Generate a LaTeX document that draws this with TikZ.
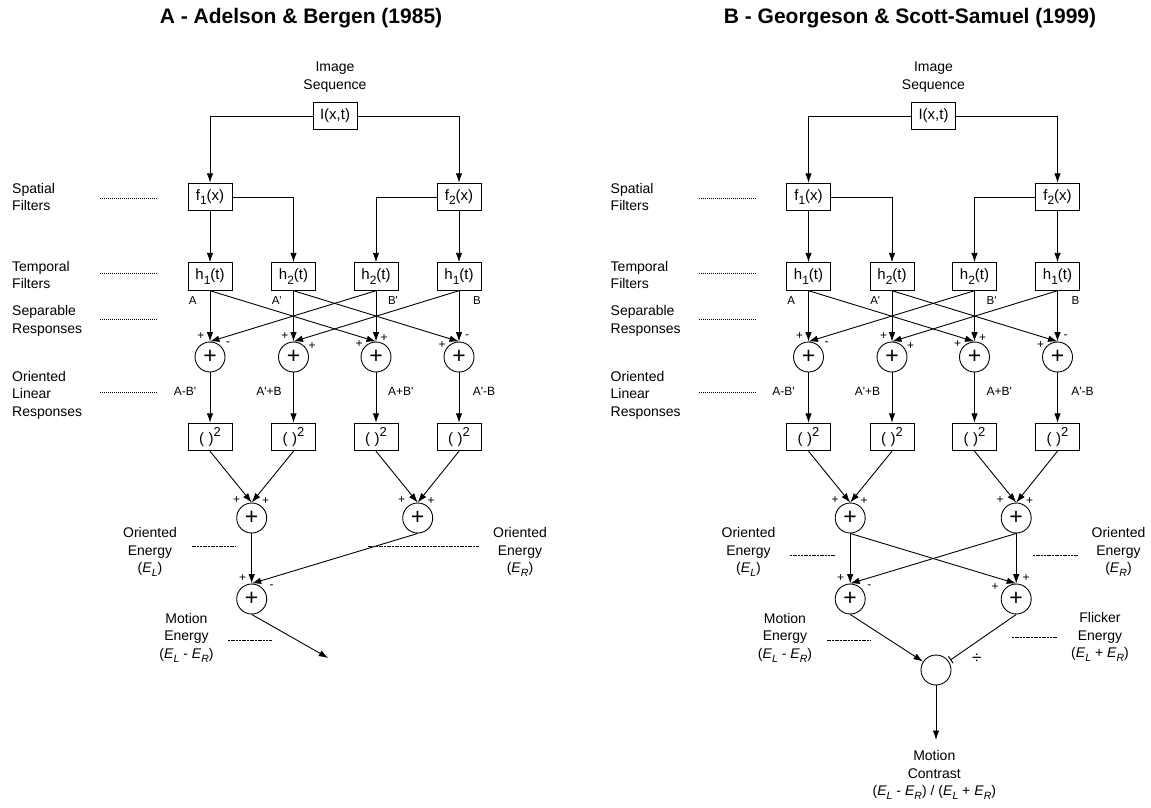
\documentclass[tikz,border=0pt]{standalone}
\usepackage{fontspec}
\setmainfont{Liberation Sans}
\newfontfamily\pfont{Liberation Sans}
\usetikzlibrary{arrows.meta}

\newcommand\pr{{\pfont\char"27}}
\newcommand\sub[1]{\raisebox{-0.55ex}{\fontsize{12}{12}\selectfont #1}}
\newcommand\Es[1]{\textit{E}\raisebox{-0.55ex}{\fontsize{10.5}{10.5}\selectfont\textit{#1}}}
\newcommand\sq{(\hspace{4.5pt})\raisebox{0.9ex}{\fontsize{13}{13}\selectfont 2}}

\tikzset{
  ln/.style={line width=0.9pt},
  arr/.style={ln,-{Latex[length=9.5pt,width=6.5pt]}},
  barr/.style={ln,-{Bar[width=8pt,line width=1pt]},shorten >=2pt},
  box/.style={draw,line width=0.9pt,minimum width=44pt,minimum height=27.5pt,inner sep=0pt,font=\fontsize{15}{15}\selectfont},
  sumc/.style={draw,circle,line width=0.9pt,minimum size=30pt,inner sep=0pt,font=\fontsize{23}{23}\selectfont},
  lbl/.style={inner sep=0pt,align=center,font=\fontsize{14}{17.5}\selectfont},
  lbll/.style={lbl,align=left,anchor=west},
  tiny/.style={inner sep=0pt,font=\fontsize{11.5}{11.5}\selectfont},
  mid/.style={inner sep=0pt,font=\fontsize{12}{12}\selectfont},
  sgn/.style={inner sep=0pt,font=\fontsize{12}{12}\selectfont},
  dotline/.style={line width=0.9pt,dash pattern=on 1pt off 1pt},
  dashline/.style={line width=0.7pt,dash pattern=on 2pt off 0.7pt},
  ttl/.style={inner sep=0pt,font=\fontsize{21}{21}\selectfont\bfseries},
}

\newcommand\commonpart{%
  % side labels
  \node[lbll] (Ls) at (12,197) {Spatial\\Filters};
  \node[lbll] (Lt) at (12,275) {Temporal\\Filters};
  \node[lbll] (Lr) at (12,321) {Separable\\Responses};
  \node[lbll] (Lo) at (12,395) {Oriented\\Linear\\Responses};
  \coordinate (ds1) at (100,198); \coordinate (ds2) at (158,198);
  \coordinate (dt1) at (100,273.5); \coordinate (dt2) at (158,273.5);
  \coordinate (dr1) at (100,319); \coordinate (dr2) at (158,319);
  \coordinate (do1) at (100,392); \coordinate (do2) at (158,392);
  \draw[dotline] (ds1) -- (ds2);
  \draw[dotline] (dt1) -- (dt2);
  \draw[dotline] (dr1) -- (dr2);
  \draw[dotline] (do1) -- (do2);
  % boxes
  \node[lbl] (seq) at (335,77) {Image\\Sequence};
  \node[box] (I) at (335,116) {I(x,t)};
  \node[box] (f1) at (210,197) {f\sub{1}(x)};
  \node[box] (f2) at (459,197) {f\sub{2}(x)};
  \node[box] (h1) at (210,276.5) {h\sub{1}(t)};
  \node[box] (h2) at (293.5,276.5) {h\sub{2}(t)};
  \node[box] (h3) at (376,276.5) {h\sub{2}(t)};
  \node[box] (h4) at (459,276.5) {h\sub{1}(t)};
  \draw[arr] (I.west) -| (f1.north);
  \draw[arr] (I.east) -| (f2.north);
  \draw[arr] (f1.south) -- (h1.north);
  \draw[arr] (f1.east) -| (h2.north);
  \draw[arr] (f2.west) -| (h3.north);
  \draw[arr] (f2.south) -- (h4.north);
  \node[tiny] (lA) at (192.7,301) {A};
  \node[tiny] (lA2) at (276.7,301) {A\pr};
  \node[tiny] (lB2) at (393,301) {B\pr};
  \node[tiny] (lB) at (477,301) {B};
  % first sums
  \node[sumc] (s1) at (210,357) {+};
  \node[sumc] (s2) at (293.5,357) {+};
  \node[sumc] (s3) at (376,357) {+};
  \node[sumc] (s4) at (459,357) {+};
  \draw[arr] (h1.south) -- (s1.north);
  \draw[arr] (h2.south) -- (s2.north);
  \draw[arr] (h3.south) -- (s3.north);
  \draw[arr] (h4.south) -- (s4.north);
  \draw[arr] (h1.south) -- (s3.north);
  \draw[arr] (h2.south) -- (s4.north);
  \draw[arr] (h3.south) -- (s1.north);
  \draw[arr] (h4.south) -- (s2.north);
  \node[sgn] (g1a) at (201,336) {+};
  \node[sgn] (g1b) at (228,344) {-};
  \node[sgn] (g2a) at (285,336) {+};
  \node[sgn] (g2b) at (312,346) {+};
  \node[sgn] (g3a) at (359,344) {+};
  \node[sgn] (g3b) at (384,338) {+};
  \node[sgn] (g4a) at (442,345) {+};
  \node[sgn] (g4b) at (467,337) {-};
  \node[mid] (o1) at (185,391) {A-B\pr};
  \node[mid] (o2) at (269,391) {A\pr+B};
  \node[mid] (o3) at (400.7,391) {A+B\pr};
  \node[mid] (o4) at (484,391) {A\pr-B};
  % squares
  \node[box] (q1) at (210,437) {\sq};
  \node[box] (q2) at (293.5,437) {\sq};
  \node[box] (q3) at (376,437) {\sq};
  \node[box] (q4) at (459,437) {\sq};
  \draw[arr] (s1.south) -- (q1.north);
  \draw[arr] (s2.south) -- (q2.north);
  \draw[arr] (s3.south) -- (q3.north);
  \draw[arr] (s4.south) -- (q4.north);
  % energy sums
  \node[sumc] (e1) at (251.7,518) {+};
  \node[sumc] (e2) at (417.7,518) {+};
  \draw[arr] (q1.south) -- (e1.north);
  \draw[arr] (q2.south) -- (e1.north);
  \draw[arr] (q3.south) -- (e2.north);
  \draw[arr] (q4.south) -- (e2.north);
  \node[sgn] (ge1a) at (236.7,500) {+};
  \node[sgn] (ge1b) at (265.7,501) {+};
  \node[sgn] (ge2a) at (401.7,500) {+};
  \node[sgn] (ge2b) at (431,501) {+};
  \node[lbl] (OEL) at (150,552) {Oriented\\Energy\\(\Es{L})};
  \node[lbl] (OER) at (520,552) {Oriented\\Energy\\(\Es{R})};
  \node[lbl] (ME) at (186.5,637.5) {Motion\\Energy\\(\Es{L} - \Es{R})};
  \coordinate (dm1) at (228,640); \coordinate (dm2) at (272,640);
  \draw[dashline] (dm1) -- (dm2);
}

\begin{document}
\begin{tikzpicture}[x=1pt,y=-1pt]
\useasboundingbox (0,0) rectangle (1151,807);
\fill[white] (0,0) rectangle (1151,807);
\node[ttl] (tA) at (301,18) {A - Adelson \& Bergen (1985)};
\node[ttl] (tB) at (910,18) {B - Georgeson \& Scott-Samuel (1999)};

\begin{scope}[name prefix=a-]
  \commonpart
  \node[sumc] (m) at (251.7,599) {+};
  \draw[arr] (e1.south) -- (m.north);
  \draw[arr] (e2.south) -- (m.north);
  \node[sgn] (gma) at (242.7,578) {+};
  \node[sgn] (gmb) at (271.7,586.7) {-};
  \coordinate (out) at (328.3,658);
  \draw[arr] (m.south) -- (out);
  \coordinate (dl1) at (191.7,546); \coordinate (dl2) at (236,546);
  \coordinate (dr1) at (367.7,546); \coordinate (dr2) at (479,546);
  \draw[dashline] (dl1) -- (dl2);
  \draw[dashline] (dr1) -- (dr2);
\end{scope}

\begin{scope}[xshift=598.5pt,name prefix=b-]
  \commonpart
  \node[sumc] (c7) at (251.7,599) {+};
  \node[sumc] (c8) at (417.7,599) {+};
  \draw[arr] (e1.south) -- (c7.north);
  \draw[arr] (e1.south) -- (c8.north);
  \draw[arr] (e2.south) -- (c7.north);
  \draw[arr] (e2.south) -- (c8.north);
  \node[sgn] (g7a) at (242.2,578) {+};
  \node[sgn] (g7b) at (270.8,586.7) {-};
  \node[sgn] (g8a) at (427.5,578) {+};
  \node[sgn] (g8b) at (396.5,586.7) {+};
  \node[circle,draw,line width=0.9pt,minimum size=30pt,inner sep=0pt] (d) at (337.5,670) {};
  \draw[arr] (c7.south) -- (d);
  \draw[barr] (c8.south) -- (d);
  \node[inner sep=0pt,font=\fontsize{17}{17}\selectfont] (div) at (378.2,658.3) {÷};
  \coordinate (out) at (337.5,740);
  \draw[arr] (d.south) -- (out);
  \node[lbl] (MC) at (335.8,775) {Motion\\Contrast\\(\Es{L} - \Es{R}) / (\Es{L} + \Es{R})};
  \node[lbl] (FE) at (501.5,637) {Flicker\\Energy\\(\Es{L} + \Es{R})};
  \coordinate (dl1) at (191.5,555); \coordinate (dl2) at (236.5,555);
  \coordinate (dr1) at (434.5,555); \coordinate (dr2) at (479.5,555);
  \coordinate (df1) at (413.5,637.3); \coordinate (df2) at (458.2,637.3);
  \draw[dashline] (dl1) -- (dl2);
  \draw[dashline] (dr1) -- (dr2);
  \draw[dashline] (df1) -- (df2);
\end{scope}
\end{tikzpicture}
\end{document}
